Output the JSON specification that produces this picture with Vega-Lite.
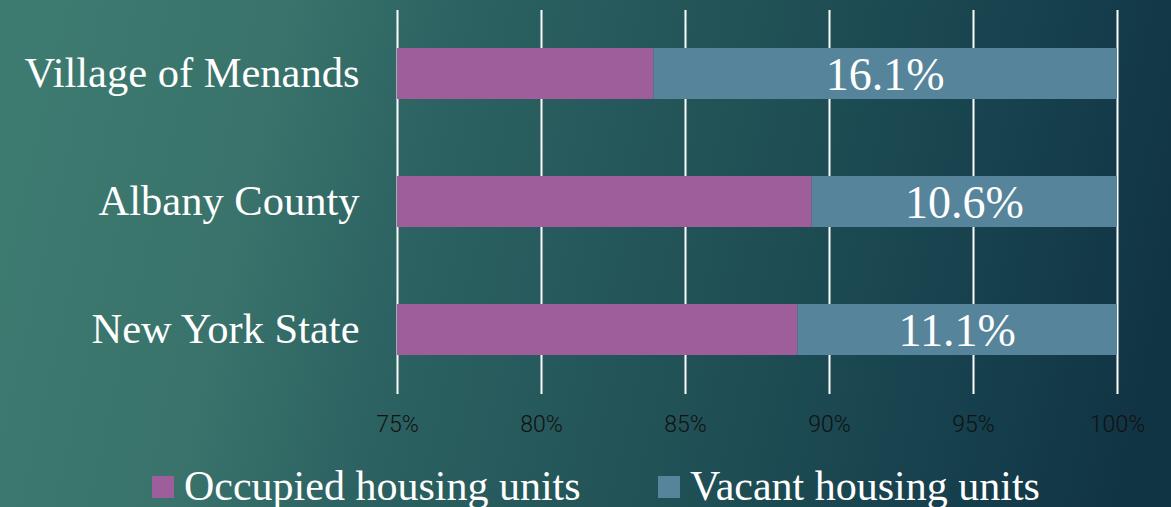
{
  "$schema": "https://vega.github.io/schema/vega-lite/v6.json",
  "width": 1171,
  "height": 507,
  "autosize": {"type": "none"},
  "padding": 0,
  "background": "#1f4d55",
  "config": {
    "view": {
      "stroke": null,
      "fill": {
        "gradient": "linear",
        "x1": 0, "y1": 0.45, "x2": 1, "y2": 0.55,
        "stops": [
          {"offset": 0, "color": "#3d7a70"},
          {"offset": 0.2, "color": "#39736b"},
          {"offset": 0.35, "color": "#2c6262"},
          {"offset": 0.6, "color": "#215256"},
          {"offset": 0.85, "color": "#16404d"},
          {"offset": 1, "color": "#113444"}
        ]
      }
    }
  },
  "data": {"values": [
    {"region": "Village of Menands", "series": "Occupied housing units", "share": 0.839},
    {"region": "Village of Menands", "series": "Vacant housing units", "share": 0.161},
    {"region": "Albany County", "series": "Occupied housing units", "share": 0.894},
    {"region": "Albany County", "series": "Vacant housing units", "share": 0.106},
    {"region": "New York State", "series": "Occupied housing units", "share": 0.889},
    {"region": "New York State", "series": "Vacant housing units", "share": 0.111}
  ]},
  "layer": [
    {
      "mark": {"type": "bar"},
      "encoding": {
        "y": {
          "field": "region",
          "type": "nominal",
          "sort": ["Village of Menands", "Albany County", "New York State"],
          "scale": {"range": [9.5, 393.5], "paddingInner": 0.6, "paddingOuter": 0.3},
          "axis": {
            "orient": "left",
            "offset": -397,
            "zindex": 1,
            "title": null,
            "domain": false,
            "ticks": false,
            "labelPadding": 38,
            "labelFont": "Liberation Serif",
            "labelFontSize": 42.5,
            "labelColor": "#ffffff",
            "labelLimit": 600
          }
        },
        "x": {
          "field": "share",
          "type": "quantitative",
          "stack": "zero",
          "scale": {"domain": [0.75, 1], "range": [397, 1117], "clamp": true, "zero": false, "nice": false},
          "axis": {
            "orient": "top",
            "zindex": 0,
            "values": [0.75, 0.8, 0.85, 0.9, 0.95, 1],
            "grid": true,
            "gridColor": "#ffffff",
            "gridWidth": 2,
            "gridOpacity": 1,
            "labels": false,
            "ticks": false,
            "domain": false,
            "title": null
          }
        },
        "color": {
          "field": "series",
          "type": "nominal",
          "scale": {"domain": ["Occupied housing units", "Vacant housing units"], "range": ["#9e5e9b", "#56849a"]},
          "legend": {
            "orient": "none",
            "legendX": 142,
            "legendY": 466,
            "direction": "horizontal",
            "title": null,
            "symbolType": "square",
            "symbolSize": 484,
            "symbolStrokeWidth": 0,
            "symbolOpacity": 1,
            "labelFont": "Liberation Serif",
            "labelFontSize": 42,
            "labelColor": "#ffffff",
            "labelOffset": 0,
            "labelLimit": 600,
            "columnPadding": 67
          }
        },
        "order": {"field": "series", "sort": "ascending"}
      }
    },
    {
      "transform": [
        {"stack": "share", "groupby": ["region"], "sort": [{"field": "series", "order": "ascending"}], "as": ["s0", "s1"]},
        {"filter": "datum.series === 'Vacant housing units'"},
        {"calculate": "(datum.s0 + datum.s1) / 2", "as": "mid"}
      ],
      "mark": {"type": "text", "font": "Liberation Serif", "fontSize": 46, "color": "#ffffff", "align": "center", "baseline": "middle", "dy": 2},
      "encoding": {
        "y": {"field": "region", "type": "nominal", "sort": ["Village of Menands", "Albany County", "New York State"]},
        "x": {
          "field": "mid",
          "type": "quantitative",
          "axis": {
            "orient": "bottom",
            "offset": -96,
            "zindex": 1,
            "values": [0.75, 0.8, 0.85, 0.9, 0.95, 1],
            "format": ".0%",
            "grid": false,
            "ticks": false,
            "domain": false,
            "title": null,
            "labelPadding": 2,
            "labelFont": "Roboto",
            "labelFontWeight": 300,
            "labelFontSize": 23,
            "labelColor": "#111111",
            "labelFlush": false
          }
        },
        "text": {"field": "share", "type": "quantitative", "format": ".1%"}
      }
    }
  ]
}
